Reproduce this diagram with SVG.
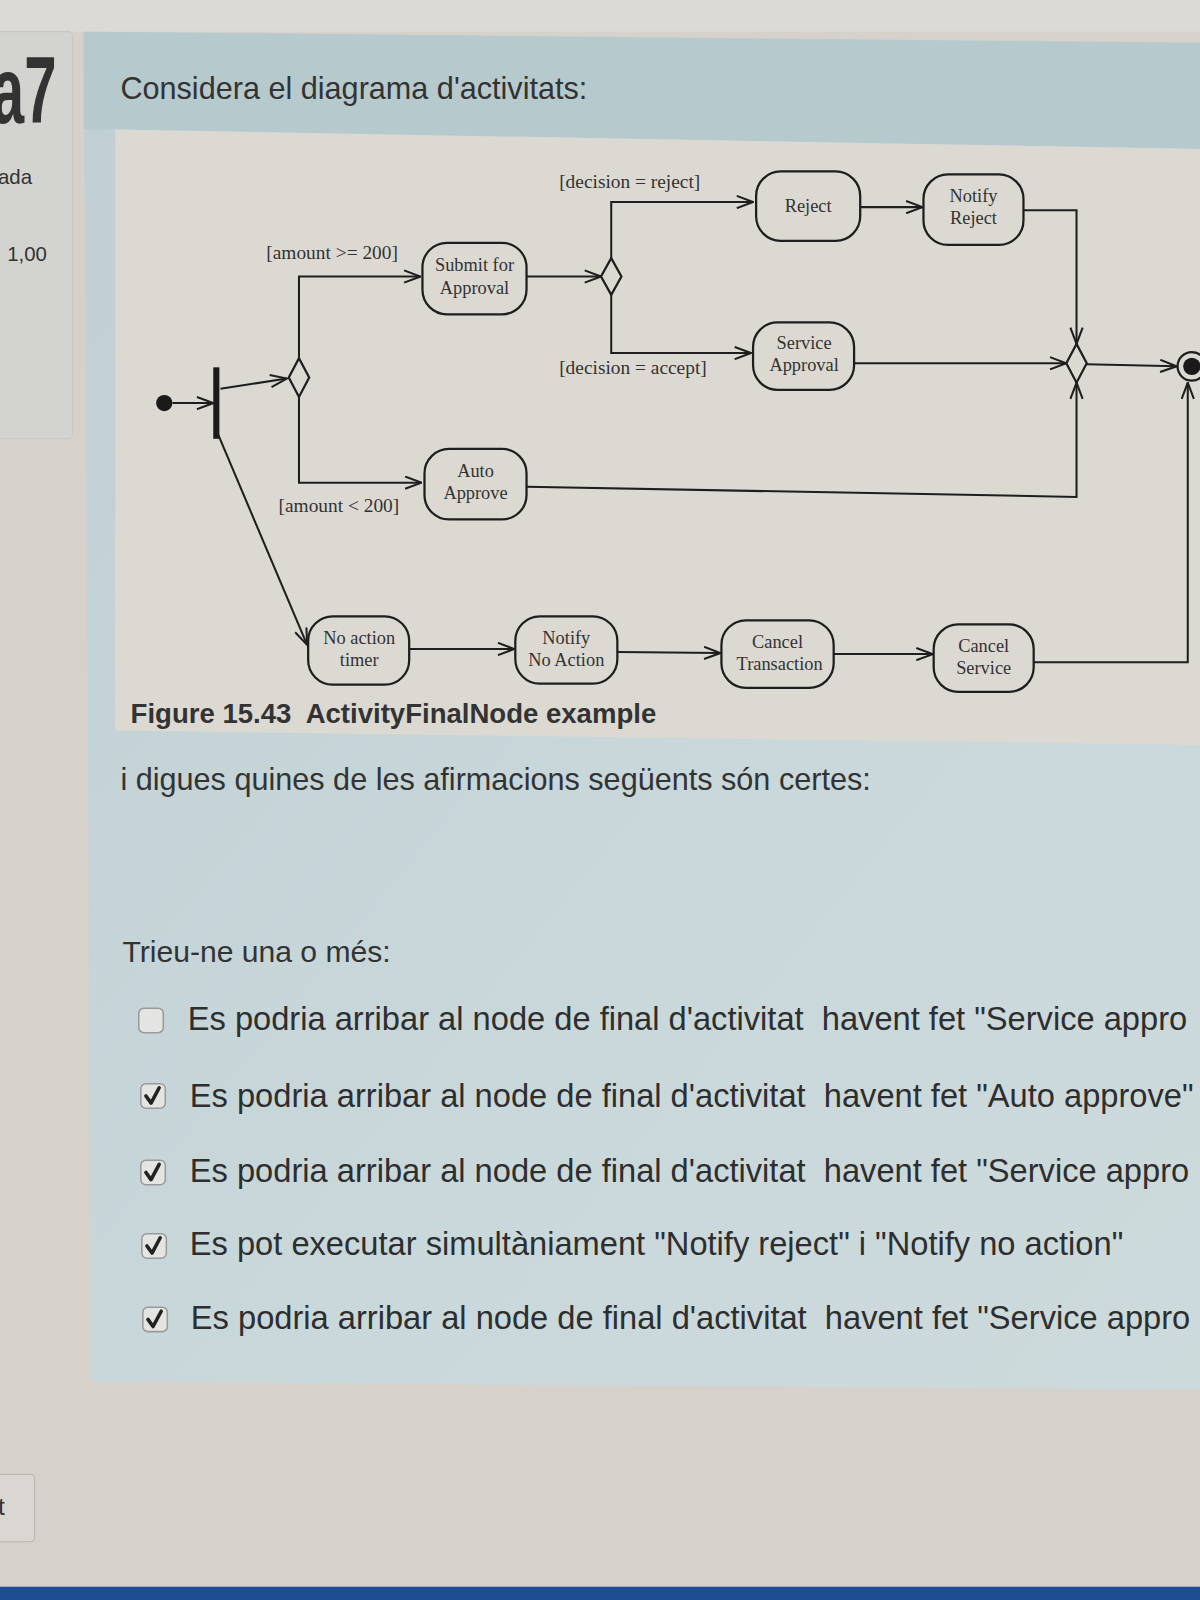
<svg xmlns="http://www.w3.org/2000/svg" width="1200" height="1600" viewBox="0 0 1200 1600">
<style>
.ui{font-family:"Liberation Sans",Arial,sans-serif;fill:#333}
.opt{font-family:"Liberation Sans",Arial,sans-serif;font-size:32px;fill:#2e2e2e}
.lbl{font-family:"Liberation Serif","Times New Roman",serif;font-size:19px;fill:#333}
.nt{font-family:"Liberation Serif","Times New Roman",serif;font-size:18px;fill:#333;text-anchor:middle}
.box{fill:none;stroke:#1e1e1e;stroke-width:2.2}
.ln{fill:none;stroke:#1e1e1e;stroke-width:2;marker-end:url(#arr)}
.cb{fill:#e4e4e2;stroke:#9a9a9a;stroke-width:1.5}
.ck{fill:none;stroke:#222;stroke-width:3.5;stroke-linecap:round;stroke-linejoin:round}
</style>
<defs>
<marker id="arr" markerUnits="userSpaceOnUse" viewBox="0 0 18 14" refX="17" refY="7" markerWidth="18" markerHeight="14" orient="auto">
<path d="M1,1 L17,7 L1,13" fill="none" stroke="#1e1e1e" stroke-width="2"/>
</marker>
<linearGradient id="panel" x1="0" y1="0" x2="1" y2="1">
<stop offset="0" stop-color="#bfcfd3"/>
<stop offset="0.6" stop-color="#c9d8db"/>
<stop offset="1" stop-color="#cddadc"/>
</linearGradient>
</defs>
<g transform="scale(1.020408)">
<rect x="0" y="0" width="1176" height="1568" fill="#d6d1cb"/>
<rect x="0" y="0" width="1176" height="31" fill="#dcdad7"/>
<g id="leftpanel">
<rect x="-6" y="31" width="77" height="399" rx="4" fill="#d3d3d0" stroke="#c6c6c3"/>
<text transform="translate(-8,121) scale(0.62,1)" class="ui" font-size="92" font-weight="bold" fill="#3a3a3a">a7</text>
<text x="-2" y="180" class="ui" font-size="20" fill="#555">ada</text>
<text x="7" y="256" class="ui" font-size="20" fill="#555">1,00</text>
</g>
<g id="panel">
<polygon points="82,31 1176,42 1176,1362 90,1354" fill="url(#panel)"/>
<polygon points="82,31 1176,42 1176,146 113,127 82,127" fill="#b6c9cd"/>
<text x="118" y="97" class="ui" font-size="30">Considera el diagrama d'activitats:</text>
</g>
<g id="diagram-bg">
<polygon points="113,127 1176,146 1176,730 113,716" fill="#dcd9d2"/>
</g>
<g id="connectors">
<path class="ln" d="M169,395 L209,395"/>
<path class="ln" d="M216,381 L281,371"/>
<path class="ln" d="M293,351 L293,271 L412,271"/>
<path class="ln" d="M293,389 L293,473 L413,473"/>
<path class="ln" d="M516,271 L589,271"/>
<path class="ln" d="M599,253 L599,198 L738,198"/>
<path class="ln" d="M599,289 L599,346 L736,346"/>
<path class="ln" d="M843,203 L904,203"/>
<path class="ln" d="M1003,206 L1055,206 L1055,337"/>
<path class="ln" d="M837,356 L1045,356"/>
<path class="ln" d="M516,477 L1055,487 L1055,375"/>
<path class="ln" d="M1065,357 L1153,359"/>
<path class="ln" d="M213,424 L301,632"/>
<path class="ln" d="M401,636 L504,636"/>
<path class="ln" d="M605,639 L706,640"/>
<path class="ln" d="M817,641 L914,641"/>
<path class="ln" d="M1013,649 L1164,649 L1164,375"/>
</g>
<g id="initial"><circle cx="161" cy="395" r="8" fill="#1a1a1a"/></g>
<g id="fork"><rect x="209" y="360" width="6" height="70" fill="#1a1a1a"/></g>
<g id="decision1"><polygon class="box" points="293,351 303,370 293,389 283,370" fill="#dcd9d2"/></g>
<g id="decision2"><polygon class="box" points="599,253 609,271 599,289 589,271" fill="#dcd9d2"/></g>
<g id="merge"><polygon class="box" points="1055,337 1065,356 1055,375 1045,356" fill="#dcd9d2"/></g>
<g id="final"><circle cx="1168" cy="359" r="14" fill="#dcd9d2" stroke="#1e1e1e" stroke-width="2.2"/><circle cx="1168" cy="359" r="8.5" fill="#1a1a1a"/></g>
<g id="labels">
<text x="261" y="254" class="lbl">[amount &gt;= 200]</text>
<text x="548" y="184" class="lbl">[decision = reject]</text>
<text x="548" y="367" class="lbl">[decision = accept]</text>
<text x="273" y="502" class="lbl">[amount &lt; 200]</text>
</g>
<g id="submit"><rect class="box" x="414" y="238" width="102" height="70" rx="24"/><text class="nt" x="465" y="266">Submit for</text><text class="nt" x="465" y="288">Approval</text></g>
<g id="reject"><rect class="box" x="741" y="168" width="102" height="68" rx="24"/><text class="nt" x="792" y="208">Reject</text></g>
<g id="notify-reject"><rect class="box" x="905" y="171" width="98" height="69" rx="24"/><text class="nt" x="954" y="198">Notify</text><text class="nt" x="954" y="220">Reject</text></g>
<g id="service-approval"><rect class="box" x="738" y="316" width="99" height="66" rx="24"/><text class="nt" x="788" y="342">Service</text><text class="nt" x="788" y="364">Approval</text></g>
<g id="auto-approve"><rect class="box" x="416" y="440" width="100" height="69" rx="24"/><text class="nt" x="466" y="467">Auto</text><text class="nt" x="466" y="489">Approve</text></g>
<g id="no-action-timer"><rect class="box" x="302" y="604" width="99" height="67" rx="24"/><text class="nt" x="352" y="631">No action</text><text class="nt" x="352" y="653">timer</text></g>
<g id="notify-no-action"><rect class="box" x="505" y="604" width="100" height="66" rx="24"/><text class="nt" x="555" y="631">Notify</text><text class="nt" x="555" y="653">No Action</text></g>
<g id="cancel-transaction"><rect class="box" x="707" y="608" width="110" height="66" rx="24"/><text class="nt" x="762" y="635">Cancel</text><text class="nt" x="764" y="657">Transaction</text></g>
<g id="cancel-service"><rect class="box" x="915" y="612" width="98" height="66" rx="24"/><text class="nt" x="964" y="639">Cancel</text><text class="nt" x="964" y="661">Service</text></g>
<g id="caption"><text x="128" y="709" class="ui" font-size="27" font-weight="bold" fill="#222">Figure 15.43&#160; ActivityFinalNode example</text></g>
<g id="question">
<text x="118" y="774" class="ui" font-size="30">i digues quines de les afirmacions següents són certes:</text>
<text x="120" y="943" class="ui" font-size="29.5">Trieu-ne una o més:</text>
</g>
<g id="options">
<rect class="cb" x="136" y="988" width="24" height="24" rx="5"/>
<text x="184" y="1009" class="opt">Es podria arribar al node de final d'activitat&#160; havent fet "Service appro</text>
<rect class="cb" x="138" y="1062" width="24" height="24" rx="5"/>
<path class="ck" d="M143,1074 L148,1081 L156,1066"/>
<text x="186" y="1085" class="opt">Es podria arribar al node de final d'activitat&#160; havent fet "Auto approve"</text>
<rect class="cb" x="138" y="1137" width="24" height="24" rx="5"/>
<path class="ck" d="M143,1149 L148,1156 L156,1141"/>
<text x="186" y="1158" class="opt">Es podria arribar al node de final d'activitat&#160; havent fet "Service appro</text>
<rect class="cb" x="139" y="1209" width="24" height="24" rx="5"/>
<path class="ck" d="M144,1221 L149,1228 L157,1213"/>
<text x="186" y="1230" class="opt">Es pot executar simultàniament "Notify reject" i "Notify no action"</text>
<rect class="cb" x="140" y="1281" width="24" height="24" rx="5"/>
<path class="ck" d="M145,1293 L150,1300 L158,1285"/>
<text x="187" y="1302" class="opt">Es podria arribar al node de final d'activitat&#160; havent fet "Service appro</text>
</g>
<g id="bottom">
<rect x="-6" y="1445" width="40" height="66" rx="4" fill="#dad6d2" stroke="#b9b5b0"/>
<text x="-2" y="1485" class="ui" font-size="24" fill="#333">t</text>
<rect x="0" y="1555" width="1176" height="13" fill="#1d4d92"/>
</g>
</g>
</svg>
